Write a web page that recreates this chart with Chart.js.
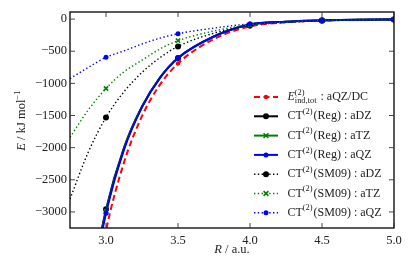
<!DOCTYPE html>
<html>
<head>
<meta charset="utf-8">
<script src="https://cdn.jsdelivr.net/npm/chart.js@4/dist/chart.umd.min.js"></script>
<style>
html,body{margin:0;padding:0;background:#fff;}
#c{display:block;}
</style>
</head>
<body>
<canvas id="c" width="415" height="260"></canvas>
<script>
// ---- data ----
const R = [2.75, 2.875, 3.0, 3.125, 3.25, 3.375, 3.5, 3.75, 4.0, 4.25, 4.5, 4.75, 5.0];
const markerR = [3.0, 3.5, 4.0, 4.5, 5.0];
const eIndTot_aQZ = [null, -4860, -3290, -2230, -1510, -1020, -690, -310, -115, -50, -25, -12, -6];
const ctReg_aDZ  = [null, -4400, -2960, -2000, -1360, -910, -605, -270, -85, -40, -20, -10, -5];
const ctReg_aTZ  = [null, -4440, -2990, -2015, -1365, -912, -606, -270, -85, -40, -20, -10, -5];
const ctReg_aQZ  = [null, -4480, -3020, -2030, -1370, -915, -607, -271, -84, -40, -20, -10, -5];
const ctSM_aDZ   = [-2800, -2080, -1530, -1130, -830, -600, -425, -220, -100, -52, -26, -13, -6];
const ctSM_aTZ   = [-1840, -1420, -1080, -820, -640, -465, -336, -185, -90, -48, -24, -12, -6];
const ctSM_aQZ   = [-925, -755, -595, -495, -388, -297, -228, -140, -75, -42, -22, -12, -6];
const xTicks = [3.0, 3.5, 4.0, 4.5, 5.0];
const yTicks = [-3000, -2500, -2000, -1500, -1000, -500, 0];

const SERIF = '"Liberation Serif", "DejaVu Serif", serif';

function pts(arr){ return R.map((r,i)=>({x:r, y:arr[i]})).filter(p=>p.y!==null); }
function radiusFn(r){ return ctx => (ctx.raw && markerR.some(m=>Math.abs(m-ctx.raw.x)<1e-6)) ? r : 0; }

const series = [
  {key:'e',  data:eIndTot_aQZ, color:'#ff0000', dash:[6,3.5], lw:2,   pstyle:'circle',   pr:2.2},
  {key:'rd', data:ctReg_aDZ,  color:'#000000', dash:[],      lw:2,   pstyle:'circle',   pr:3},
  {key:'rt', data:ctReg_aTZ,  color:'#008000', dash:[],      lw:2,   pstyle:'crossRot', pr:3},
  {key:'rq', data:ctReg_aQZ,  color:'#0000ff', dash:[],      lw:2,   pstyle:'circle',   pr:2.5},
  {key:'sd', data:ctSM_aDZ,   color:'#000000', dash:[1.4,2.4], lw:1.4, pstyle:'circle', pr:3},
  {key:'st', data:ctSM_aTZ,   color:'#008000', dash:[1.4,2.4], lw:1.4, pstyle:'crossRot', pr:3},
  {key:'sq', data:ctSM_aQZ,   color:'#0000ff', dash:[1.4,2.4], lw:1.4, pstyle:'circle', pr:2.5}
];

const datasets = series.map((s,i)=>({
  label:s.key,
  data:pts(s.data),
  borderColor:s.color,
  backgroundColor:s.color,
  borderWidth:s.lw,
  borderDash:s.dash,
  cubicInterpolationMode:'monotone',
  pointStyle:s.pstyle,
  pointRadius:radiusFn(s.pr),
  pointHoverRadius:0,
  pointBorderWidth: s.pstyle==='crossRot' ? 1.6 : 0,
  pointBorderColor:s.color,
  pointBackgroundColor:s.color,
  order: series.length - i
}));

const CA = {left:70, right:394, top:12, bottom:228};

function drawRich(ctx, x, y, parts, size){
  let cx = x;
  for (const p of parts){
    if (p.sup !== undefined || p.sub !== undefined){
      ctx.font = `${size*0.7}px ${SERIF}`;
      let w = 0;
      if (p.sup !== undefined){ ctx.fillText(p.sup, cx, y - size*0.38); w = Math.max(w, ctx.measureText(p.sup).width); }
      if (p.sub !== undefined){ ctx.fillText(p.sub, cx, y + size*0.28); w = Math.max(w, ctx.measureText(p.sub).width); }
      cx += w + 1;
    } else {
      ctx.font = `${p.it?'italic ':''}${size}px ${SERIF}`;
      ctx.fillText(p.t, cx, y);
      cx += ctx.measureText(p.t).width;
    }
  }
  return cx - x;
}
function richWidth(ctx, parts, size){
  let w=0;
  for (const p of parts){
    if (p.sup !== undefined || p.sub !== undefined){
      ctx.font = `${size*0.7}px ${SERIF}`;
      let m=0;
      if (p.sup!==undefined) m=Math.max(m,ctx.measureText(p.sup).width);
      if (p.sub!==undefined) m=Math.max(m,ctx.measureText(p.sub).width);
      w+=m+1;
    } else { ctx.font = `${p.it?'italic ':''}${size}px ${SERIF}`; w+=ctx.measureText(p.t).width; }
  }
  return w;
}

const legendLabels = [
  [{t:'E',it:true},{sup:'(2)',sub:'ind,tot'},{t:' : aQZ/DC'}],
  [{t:'CT'},{sup:'(2)'},{t:'(Reg) : aDZ'}],
  [{t:'CT'},{sup:'(2)'},{t:'(Reg) : aTZ'}],
  [{t:'CT'},{sup:'(2)'},{t:'(Reg) : aQZ'}],
  [{t:'CT'},{sup:'(2)'},{t:'(SM09) : aDZ'}],
  [{t:'CT'},{sup:'(2)'},{t:'(SM09) : aTZ'}],
  [{t:'CT'},{sup:'(2)'},{t:'(SM09) : aQZ'}]
];

const decor = {
  id:'decor',
  afterDraw(chart){
    const ctx = chart.ctx;
    const a = chart.chartArea;
    const xs = chart.scales.x, ys = chart.scales.y;
    ctx.save();
    ctx.strokeStyle = '#000'; ctx.lineWidth = 1.3; ctx.setLineDash([]);
    ctx.strokeRect(a.left, a.top, a.right-a.left, a.bottom-a.top);
    ctx.lineWidth = 0.9; ctx.strokeStyle='#333';
    const tl = 5;
    ctx.beginPath();
    xTicks.forEach(v=>{ const px = xs.getPixelForValue(v);
      ctx.moveTo(px, a.bottom); ctx.lineTo(px, a.bottom - tl);
      ctx.moveTo(px, a.top); ctx.lineTo(px, a.top + tl); });
    yTicks.forEach(v=>{ const py = ys.getPixelForValue(v);
      ctx.moveTo(a.left, py); ctx.lineTo(a.left + tl, py);
      ctx.moveTo(a.right, py); ctx.lineTo(a.right - tl, py); });
    ctx.stroke();
    ctx.fillStyle = '#222'; ctx.textBaseline = 'middle'; ctx.textAlign='left';
    const xt = [{t:'R',it:true},{t:' / a.u.'}];
    const xw = richWidth(ctx, xt, 12.5);
    drawRich(ctx, (a.left+a.right)/2 - xw/2, 250, xt, 12.5);
    ctx.save();
    ctx.translate(22, (a.top+a.bottom)/2);
    ctx.rotate(-Math.PI/2);
    const yt = [{t:'E',it:true},{t:' / kJ mol'},{sup:'\u22121'}];
    const yw = richWidth(ctx, yt, 12.5);
    drawRich(ctx, -yw/2, 0, yt, 12.5);
    ctx.restore();
    const rowY0 = 97, dy = 19.3;
    series.forEach((s,i)=>{
      const y = rowY0 + i*dy;
      ctx.strokeStyle = s.color; ctx.lineWidth = s.lw; ctx.setLineDash(s.dash);
      ctx.beginPath(); ctx.moveTo(254, y); ctx.lineTo(278, y); ctx.stroke();
      ctx.setLineDash([]);
      ctx.fillStyle = s.color;
      if (s.pstyle==='crossRot'){
        const r = 2.4; ctx.lineWidth=1.6;
        ctx.beginPath(); ctx.moveTo(266-r,y-r); ctx.lineTo(266+r,y+r); ctx.moveTo(266-r,y+r); ctx.lineTo(266+r,y-r); ctx.stroke();
      } else {
        ctx.beginPath(); ctx.arc(266, y, s.pr, 0, Math.PI*2); ctx.fill();
      }
      ctx.fillStyle = '#222';
      drawRich(ctx, 287.5, y, legendLabels[i], 12);
    });
    ctx.restore();
  }
};

new Chart(document.getElementById('c'), {
  type:'line',
  data:{datasets},
  options:{
    responsive:false,
    animation:false,
    events:[],
    layout:{padding:{left:0, right:415-CA.right, top:CA.top, bottom:0}},
    plugins:{legend:{display:false}, tooltip:{enabled:false}},
    scales:{
      x:{
        type:'linear', min:2.75, max:5.0,
        grid:{display:false, drawTicks:false},
        border:{display:false},
        afterBuildTicks(s){ s.ticks = xTicks.map(v=>({value:v})); },
        afterFit(s){ s.height = 260 - CA.bottom; },
        ticks:{padding:5, autoSkip:false, maxRotation:0, color:'#222',
          font:{family:SERIF, size:12.5},
          callback:v=>Number(v).toFixed(1)}
      },
      y:{
        type:'linear', min:-3250, max:110,
        grid:{display:false, drawTicks:false},
        border:{display:false},
        afterBuildTicks(s){ s.ticks = yTicks.map(v=>({value:v})); },
        afterFit(s){ s.width = CA.left; },
        ticks:{padding:3, autoSkip:false, color:'#222',
          font:{family:SERIF, size:12.5},
          callback:v=>String(v).replace('-','\u2212')}
      }
    }
  },
  plugins:[decor]
});
</script>
</body>
</html>
